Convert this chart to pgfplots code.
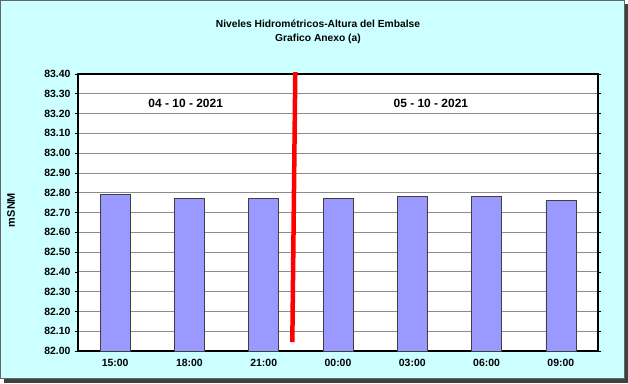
\documentclass[border=0pt]{standalone}
\usepackage{pgfplots}
\pgfplotsset{compat=1.18}
\usepackage{fontspec}
\setmainfont{Liberation Sans}
\definecolor{bgc}{HTML}{CCFFFF}
\definecolor{barc}{HTML}{9999FF}
\begin{document}
\begin{tikzpicture}[x=1bp,y=1bp]
\path[use as bounding box] (0,0) rectangle (628,383);
\fill[black!75] (4,0) rectangle (628,379);
\fill[bgc] (0,4) rectangle (625,383);
\draw[black!60, line width=0.8bp] (0.4,4.4) rectangle (624.6,382.6);
\begin{axis}[
  at={(78bp,32bp)}, anchor=south west,
  scale only axis, width=520bp, height=277bp,
  xmin=-0.5, xmax=6.5, ymin=82, ymax=83.4,
  axis background/.style={fill=white},
  axis line style={black, line width=1.2bp},
  ytick={82,82.1,...,83.41},
  yticklabel={\pgfmathprintnumber[fixed,fixed zerofill,precision=2]{\tick}},
  /pgf/number format/assume math mode=true,
  ymajorgrids, grid style={black!45, line width=0.8bp},
  xtick={0,...,6},
  xticklabels={15:00,18:00,21:00,00:00,03:00,06:00,09:00},
  extra x ticks={-0.5,0.5,...,6.5},
  extra x tick labels={},
  extra x tick style={major tick length=3bp, tick style={black!60}, xmajorgrids=false},
  xtick style={draw=none},
  ytick style={black, line width=0.6bp},
  tick align=outside, major tick length=3bp,
  every tick label/.append style={font=\bfseries\fontsize{10.5}{12}\selectfont},
  yticklabel style={xshift=-1bp},
  xticklabel style={yshift=-2bp},
  ylabel={\bfseries mSNM}, ylabel style={font=\bfseries\fontsize{11}{13}\selectfont, at={(-67bp,141bp)}, anchor=center},
  clip=false,
]
\addplot[ybar, bar width=30bp, fill=barc, draw=black!75, line width=0.6bp, bar shift=0pt]
  coordinates {(0,82.79) (1,82.77) (2,82.77) (3,82.77) (4,82.78) (5,82.78) (6,82.76)};
\addplot[red, line width=4.5bp, no marks] coordinates {(2.425,83.41) (2.385,82.045)};
\node[font=\bfseries\fontsize{12}{14}\selectfont] at (axis cs:0.95,83.25) {04 - 10 - 2021};
\node[font=\bfseries\fontsize{12}{14}\selectfont] at (axis cs:4.25,83.25) {05 - 10 - 2021};
\end{axis}
\node[font=\bfseries\fontsize{10.3}{14.5}\selectfont, align=center] at (318,351) {Niveles Hidrométricos-Altura del Embalse\\Grafico Anexo (a)};
\end{tikzpicture}
\end{document}
